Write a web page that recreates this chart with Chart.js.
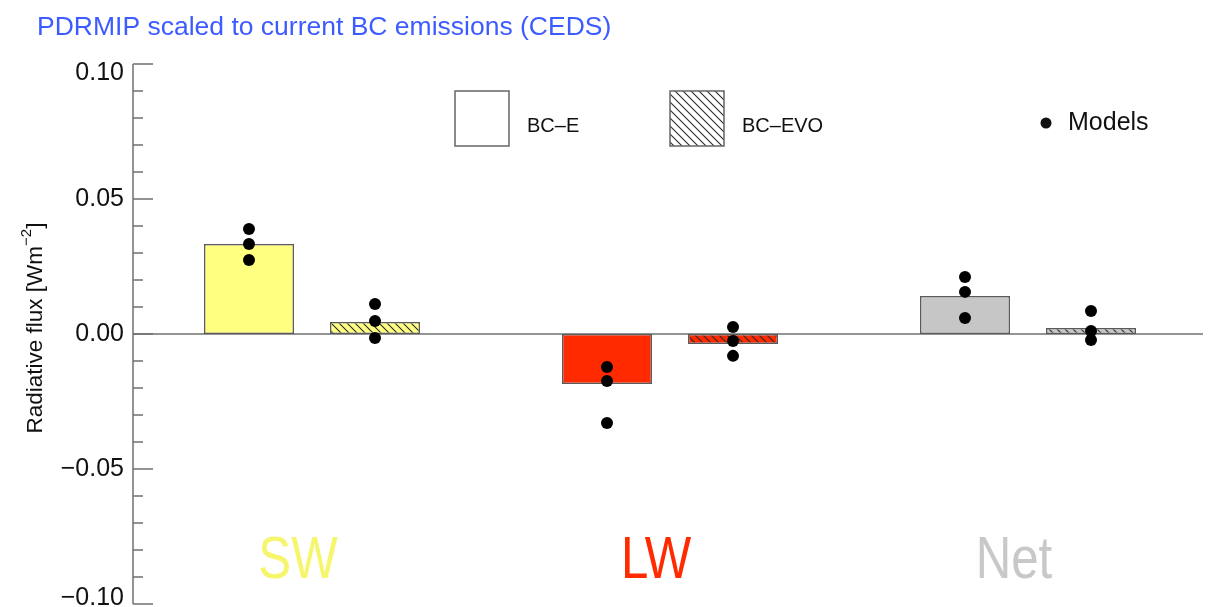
<!DOCTYPE html>
<html>
<head>
<meta charset="utf-8">
<script src="https://cdn.jsdelivr.net/npm/chart.js@4.4.1/dist/chart.umd.min.js"></script>
<style>
  html, body { margin: 0; padding: 0; background: #fff; }
</style>
</head>
<body>
<canvas id="fluxChart" width="1209" height="607"></canvas>
<script>
// ---- data ----
const categories  = ['SW', 'LW', 'Net'];
const seriesNames = ['BC\u2013E', 'BC\u2013EVO'];
const bcE   = [0.0333, -0.0185, 0.0141];
const bcEVO = [0.0044, -0.0037, 0.0022];
// individual model results, one list per category
const modelsE   = [[0.0389, 0.0333, 0.0274], [-0.0122, -0.0174, -0.0330], [0.0211, 0.0156, 0.0059]];
const modelsEVO = [[0.0111, 0.0048, -0.0015], [0.0026, -0.0026, -0.0081], [0.0085, 0.0011, -0.0022]];
const yTicks = [-0.10, -0.05, 0.00, 0.05, 0.10];
const yMinorStep = 0.01;

const FONT = '"Liberation Sans", Helvetica, Arial, sans-serif';
const barFill   = ['#ffff80', '#ff2a00', '#c6c6c6'];
const labelFill = ['#f6f66c', '#ff2a00', '#c8c8c8'];

function hatch(bg) {
    const c = document.createElement('canvas');
    c.width = 8; c.height = 8;
    const g = c.getContext('2d');
    g.fillStyle = bg;
    g.fillRect(0, 0, 8, 8);
    g.strokeStyle = '#2a2a2a';
    g.lineWidth = 1.1;
    g.beginPath();
    g.moveTo(-1, -1); g.lineTo(9, 9);
    g.moveTo(7, -1);  g.lineTo(9, 1);
    g.moveTo(-1, 7);  g.lineTo(1, 9);
    g.stroke();
    return document.getElementById('fluxChart').getContext('2d').createPattern(c, 'repeat');
}

const fmt = v => (Math.abs(v) < 1e-9 ? 0 : v).toFixed(2).replace('-', '\u2212');

const overlay = {
    id: 'overlay',
    beforeDatasetsDraw(chart) {
        const { ctx, chartArea, scales: { y } } = chart;
        ctx.save();
        ctx.strokeStyle = '#707070';
        ctx.lineWidth = 1.5;
        // zero line
        const y0 = y.getPixelForValue(0);
        ctx.beginPath();
        ctx.moveTo(chartArea.left, y0);
        ctx.lineTo(chartArea.right - 4, y0);
        ctx.stroke();
        // axis line and inward ticks
        const ax = chartArea.left;
        ctx.beginPath();
        ctx.moveTo(ax, y.getPixelForValue(yTicks[0]));
        ctx.lineTo(ax, y.getPixelForValue(yTicks[yTicks.length - 1]));
        const n = Math.round((yTicks[yTicks.length - 1] - yTicks[0]) / yMinorStep);
        for (let k = 0; k <= n; k++) {
            const v = yTicks[0] + k * yMinorStep;
            const major = k % 5 === 0;
            const py = y.getPixelForValue(v);
            ctx.moveTo(ax, py);
            ctx.lineTo(ax + (major ? 20 : 10), py);
        }
        ctx.stroke();
        // tick labels
        ctx.fillStyle = '#111';
        ctx.font = '25px ' + FONT;
        ctx.textAlign = 'right';
        yTicks.forEach((v, i) => {
            const py = y.getPixelForValue(v);
            if (i === yTicks.length - 1) { ctx.textBaseline = 'top'; ctx.fillText(fmt(v), ax - 9, py - 3); }
            else if (i === 0) { ctx.textBaseline = 'alphabetic'; ctx.fillText(fmt(v), ax - 9, py + 1); }
            else { ctx.textBaseline = 'middle'; ctx.fillText(fmt(v), ax - 9, py); }
        });
        ctx.restore();
    },
    afterDatasetsDraw(chart) {
        // model dots on the centre of each bar
        const { ctx, scales: { y } } = chart;
        ctx.save();
        ctx.fillStyle = '#000';
        [modelsE, modelsEVO].forEach((series, s) => {
            const bars = chart.getDatasetMeta(s).data;
            series.forEach((vals, i) => vals.forEach(v => {
                ctx.beginPath();
                ctx.arc(bars[i].x, y.getPixelForValue(v), 6, 0, Math.PI * 2);
                ctx.fill();
            }));
        });
        ctx.restore();
    },
    afterDraw(chart) {
        const { ctx, scales: { x, y } } = chart;
        ctx.save();
        // title
        ctx.fillStyle = '#3d5cff';
        ctx.font = '26.5px ' + FONT;
        ctx.textAlign = 'left';
        ctx.textBaseline = 'middle';
        ctx.fillText('PDRMIP scaled to current BC emissions (CEDS)', 37, 28);

        // y title with superscript
        ctx.save();
        ctx.translate(36, 328);
        ctx.rotate(-Math.PI / 2);
        ctx.fillStyle = '#111';
        ctx.textBaseline = 'middle';
        const main = '22.5px ' + FONT, sup = '15px ' + FONT;
        ctx.font = main; const w1 = ctx.measureText('Radiative flux [Wm').width;
        ctx.font = sup;  const w2 = ctx.measureText('\u22122').width;
        ctx.font = main; const w3 = ctx.measureText(']').width;
        let sx = -(w1 + w2 + w3) / 2;
        ctx.textAlign = 'left';
        ctx.fillText('Radiative flux [Wm', sx, 0); sx += w1;
        ctx.font = sup; ctx.fillText('\u22122', sx, -9); sx += w2;
        ctx.font = main; ctx.fillText(']', sx, 0);
        ctx.restore();

        // category labels (narrow lettering)
        ctx.font = '60px ' + FONT;
        ctx.textAlign = 'center';
        ctx.textBaseline = 'middle';
        categories.forEach((c, i) => {
            ctx.save();
            ctx.fillStyle = labelFill[i];
            ctx.translate(x.getPixelForValue(i) - 14, y.getPixelForValue(-0.0843));
            ctx.scale(0.82, 1);
            ctx.fillText(c, 0, 0);
            ctx.restore();
        });

        // legend
        ctx.lineWidth = 1.5;
        ctx.strokeStyle = '#666';
        ctx.fillStyle = '#fff';
        ctx.fillRect(455, 91, 54, 55);
        ctx.strokeRect(455, 91, 54, 55);
        ctx.fillStyle = hatch('#ffffff');
        ctx.fillRect(670, 91, 54, 55);
        ctx.strokeRect(670, 91, 54, 55);
        ctx.fillStyle = '#111';
        ctx.font = '20px ' + FONT;
        ctx.textAlign = 'left';
        ctx.fillText(seriesNames[0], 527, 126);
        ctx.fillText(seriesNames[1], 742, 126);
        ctx.beginPath();
        ctx.arc(1046, 123, 5.5, 0, Math.PI * 2);
        ctx.fill();
        ctx.font = '25px ' + FONT;
        ctx.fillText('Models', 1068, 123);
        ctx.restore();
    }
};

new Chart(document.getElementById('fluxChart'), {
    type: 'bar',
    data: {
        labels: categories,
        datasets: [
            {
                label: seriesNames[0],
                data: bcE,
                backgroundColor: barFill,
                borderColor: '#5a5a5a',
                borderWidth: 1.5,
                borderSkipped: false,
                categoryPercentage: 0.704,
                barPercentage: 0.714
            },
            {
                label: seriesNames[1],
                data: bcEVO,
                backgroundColor: barFill.map(hatch),
                borderColor: '#5a5a5a',
                borderWidth: 1.5,
                borderSkipped: false,
                categoryPercentage: 0.704,
                barPercentage: 0.714
            }
        ]
    },
    options: {
        responsive: false,
        animation: false,
        devicePixelRatio: 1,
        layout: { padding: { left: 133, top: 64, right: 2, bottom: 3 } },
        plugins: { legend: { display: false }, tooltip: { enabled: false }, title: { display: false } },
        scales: {
            x: { display: false },
            y: { display: false, min: -0.10, max: 0.10 }
        }
    },
    plugins: [overlay]
});
</script>
</body>
</html>
